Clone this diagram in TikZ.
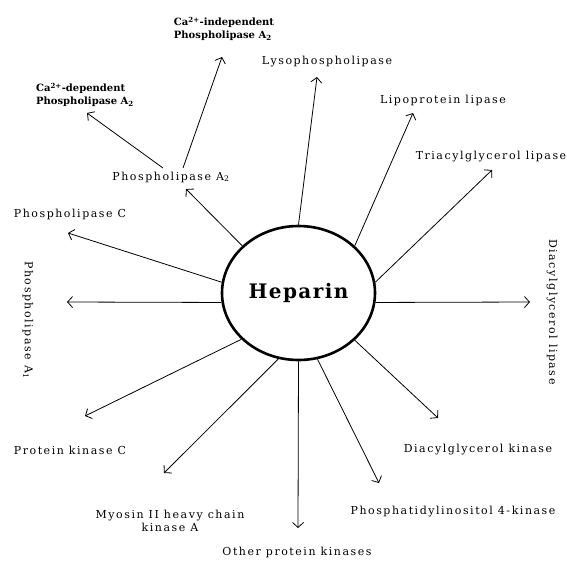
\documentclass[tikz,border=0pt]{standalone}
\usepackage{fontspec}
\newfontfamily\lblfont{DejaVu Serif}[LetterSpace=14]
\newfontfamily\cafont{DejaVu Serif}
\newfontfamily\hepfont{DejaVu Serif}[LetterSpace=7]
\usetikzlibrary{shapes.geometric,arrows.meta}
\begin{document}
\begin{tikzpicture}[x=1pt,y=-1pt,
  lbl/.style={font=\lblfont\fontsize{11}{13.5}\selectfont, inner sep=0pt, align=center},
  calbl/.style={font=\cafont\fontsize{10}{13}\selectfont\bfseries, inner sep=0pt, align=left},
  arr/.style={line width=0.8pt, -{Straight Barb[length=5pt,width=11pt,line width=0.8pt]}},
  hep/.style={draw, ellipse, line width=2.6pt, minimum width=153pt, minimum height=134pt, inner sep=0pt,
    font=\hepfont\fontsize{20}{24}\selectfont\bfseries}
]
\useasboundingbox (0,0) rectangle (567,563);
\node[hep] (h) at (298.5,293) {Heparin};

% labels
\node[lbl] (lyso) at (327,62) {Lysophospholipase};
\node[lbl] (lipo) at (443,100) {Lipoprotein lipase};
\node[lbl] (tag) at (491,157) {Triacylglycerol lipase};
\node[lbl, rotate=-90] (dagl) at (552,312) {Diacylglycerol lipase};
\node[lbl] (dagk) at (478,450) {Diacylglycerol kinase};
\node[lbl] (pi4k) at (453,512) {Phosphatidylinositol 4-kinase};
\node[lbl] (other) at (297,552) {Other protein kinases};
\node[lbl] (myo) at (170,521) {Myosin II heavy chain\\kinase A};
\node[lbl] (pkc) at (70,450) {Protein kinase C};
\node[lbl, rotate=-90] (pla1) at (28,320) {Phospholipase A\textsubscript{1}};
\node[lbl] (plc) at (70,214) {Phospholipase C};
\node[lbl] (pla2) at (171,177) {Phospholipase A\textsubscript{2}};
\node[calbl] (cadep) at (85,95) {Ca\textsuperscript{2+}-dependent\\Phospholipase A\textsubscript{2}};
\node[calbl] (caind) at (224,29) {Ca\textsuperscript{2+}-independent\\Phospholipase A\textsubscript{2}};

% arrow tips
\coordinate (tlyso) at (317,77);
\coordinate (tlipo) at (413,113);
\coordinate (ttag) at (492,170);
\coordinate (tdagl) at (530,302);
\coordinate (tdagk) at (438,418);
\coordinate (tpi4k) at (379,483);
\coordinate (tother) at (298,528);
\coordinate (tmyo) at (164,473);
\coordinate (tpkc) at (85,416);
\coordinate (tpla1) at (67,302);
\coordinate (tplc) at (68,233);
\coordinate (tpla2) at (186,189);
\coordinate (tcadep) at (87,113);
\coordinate (tcaind) at (222,57);
\coordinate (s1) at (163,168);
\coordinate (s2) at (183,168);

\draw[arr] (h.90) -- (tlyso);
\draw[arr] (h.40) -- (tlipo);
\draw[arr] (h.8) -- (ttag);
\draw[arr] (h.-7) -- (tdagl);
\draw[arr] (h.-40) -- (tdagk);
\draw[arr] (h.-74.5) -- (tpi4k);
\draw[arr] (h.-90) -- (tother);
\draw[arr] (h.-107) -- (tmyo);
\draw[arr] (h.219.4) -- (tpkc);
\draw[arr] (h.187) -- (tpla1);
\draw[arr] (h.172.6) -- (tplc);
\draw[arr] (h.140) -- (tpla2);
\draw[arr] (s1) -- (tcadep);
\draw[arr] (s2) -- (tcaind);
\end{tikzpicture}
\end{document}
